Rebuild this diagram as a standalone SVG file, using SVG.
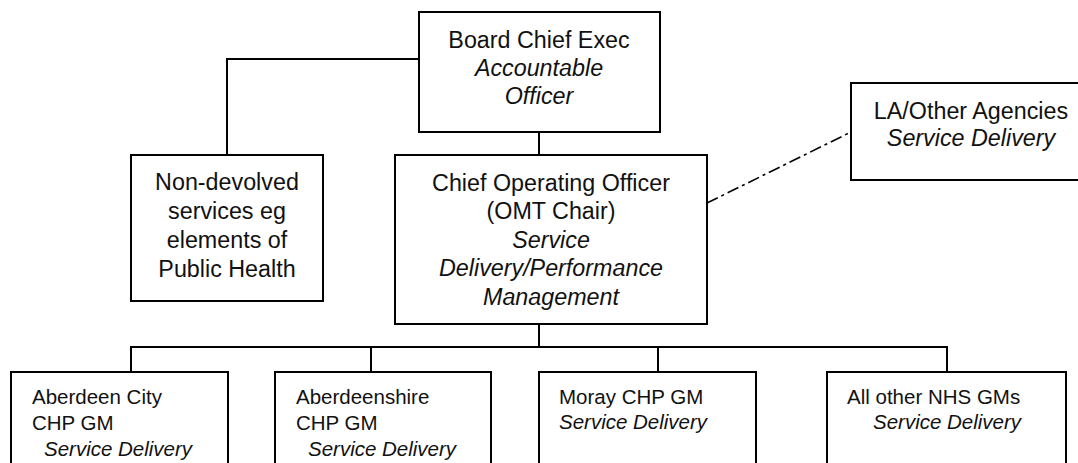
<svg xmlns="http://www.w3.org/2000/svg" width="1078" height="463" viewBox="0 0 1078 463">
  <style>
    .box { fill: #ffffff; stroke: #000000; stroke-width: 2; }
    .wire { fill: none; stroke: #000000; stroke-width: 2; }
    .dashdot { fill: none; stroke: #000000; stroke-width: 1.6; stroke-dasharray: 12 4 3 4; }
    text { font-family: "Liberation Sans", Arial, sans-serif; fill: #111111; }
    .big { font-size: 23.3px; }
    .small { font-size: 20.5px; }
    .c { text-anchor: middle; }
    .i { font-style: italic; }
  </style>

  <!-- connectors -->
  <g id="connectors">
    <path class="wire" d="M227 155 V59 H419"/>
    <path class="wire" d="M539 132 V155"/>
    <path class="wire" d="M539 324 V347"/>
    <path class="wire" d="M131 372 V347 H947 V372"/>
    <path class="wire" d="M371 347 V372"/>
    <path class="wire" d="M658 347 V372"/>
    <path class="dashdot" d="M707 203 L851 132"/>
  </g>

  <!-- board chief executive -->
  <g id="board-chief-exec">
    <rect class="box" x="419" y="12" width="241" height="120"/>
    <text class="big c" x="539" y="48">Board Chief Exec</text>
    <text class="big c i" x="539" y="76">Accountable</text>
    <text class="big c i" x="539" y="104">Officer</text>
  </g>

  <!-- non-devolved services -->
  <g id="non-devolved">
    <rect class="box" x="131" y="155" width="192" height="146"/>
    <text class="big c" x="227" y="189.5">Non-devolved</text>
    <text class="big c" x="227" y="218.5">services eg</text>
    <text class="big c" x="227" y="247.5">elements of</text>
    <text class="big c" x="227" y="276.5">Public Health</text>
  </g>

  <!-- chief operating officer -->
  <g id="chief-operating-officer">
    <rect class="box" x="395" y="155" width="312" height="169"/>
    <text class="big c" x="551" y="190.5">Chief Operating Officer</text>
    <text class="big c" x="551" y="219">(OMT Chair)</text>
    <text class="big c i" x="551" y="247.5">Service</text>
    <text class="big c i" x="551" y="276">Delivery/Performance</text>
    <text class="big c i" x="551" y="304.5">Management</text>
  </g>

  <!-- local authority / other agencies -->
  <g id="la-other-agencies">
    <rect class="box" x="851" y="83" width="240" height="97"/>
    <text class="big c" x="971" y="118.5">LA/Other Agencies</text>
    <text class="big c i" x="971" y="145.5">Service Delivery</text>
  </g>

  <!-- general managers -->
  <g id="aberdeen-city">
    <rect class="box" x="11" y="372" width="217" height="120"/>
    <text class="small" x="32" y="404">Aberdeen City</text>
    <text class="small" x="32" y="430">CHP GM</text>
    <text class="small i" x="44" y="455.5">Service Delivery</text>
  </g>

  <g id="aberdeenshire">
    <rect class="box" x="275" y="372" width="216" height="120"/>
    <text class="small" x="296" y="404">Aberdeenshire</text>
    <text class="small" x="296" y="430">CHP GM</text>
    <text class="small i" x="308" y="455.5">Service Delivery</text>
  </g>

  <g id="moray">
    <rect class="box" x="539" y="372" width="217" height="120"/>
    <text class="small" x="559" y="403.5">Moray CHP GM</text>
    <text class="small i" x="559" y="429">Service Delivery</text>
  </g>

  <g id="other-nhs">
    <rect class="box" x="827" y="372" width="239" height="120"/>
    <text class="small" x="847" y="403.5">All other NHS GMs</text>
    <text class="small i" x="873" y="429">Service Delivery</text>
  </g>
</svg>
